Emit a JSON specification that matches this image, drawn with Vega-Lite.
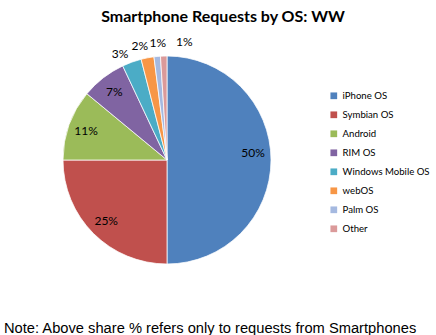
{
  "$schema": "https://vega.github.io/schema/vega-lite/v6.json",
  "background": "white",
  "padding": {"left": 4, "top": 9, "right": 0, "bottom": 0},
  "title": {
    "text": "Note: Above share % refers only to requests from Smartphones",
    "orient": "bottom",
    "anchor": "start",
    "font": "Liberation Sans",
    "fontSize": 14.7,
    "fontWeight": "normal",
    "color": "black",
    "offset": 40
  },
  "datasets": {
    "os": [
      {"idx": 1, "os": "iPhone OS", "share": 0.50},
      {"idx": 2, "os": "Symbian OS", "share": 0.25},
      {"idx": 3, "os": "Android", "share": 0.11},
      {"idx": 4, "os": "RIM OS", "share": 0.07},
      {"idx": 5, "os": "Windows Mobile OS", "share": 0.03},
      {"idx": 6, "os": "webOS", "share": 0.02},
      {"idx": 7, "os": "Palm OS", "share": 0.01},
      {"idx": 8, "os": "Other", "share": 0.01}
    ]
  },
  "vconcat": [
    {
      "title": {
        "text": "Smartphone Requests by OS: WW",
        "font": "Lato",
        "fontSize": 16,
        "fontWeight": "bold",
        "color": "black",
        "anchor": "middle",
        "dx": 56,
        "offset": 11
      },
      "width": 326,
      "height": 242,
      "data": {"name": "os"},
      "encoding": {
        "theta": {"field": "share", "type": "quantitative", "stack": true},
        "order": {"field": "idx", "type": "quantitative"},
        "color": {
          "field": "os",
          "type": "nominal",
          "sort": ["iPhone OS", "Symbian OS", "Android", "RIM OS", "Windows Mobile OS", "webOS", "Palm OS", "Other"],
          "scale": {
            "domain": ["iPhone OS", "Symbian OS", "Android", "RIM OS", "Windows Mobile OS", "webOS", "Palm OS", "Other"],
            "range": ["#4F81BD", "#C0504D", "#9BBB59", "#8064A2", "#4BACC6", "#F79646", "#A5B9E0", "#DB9A9A"]
          },
          "legend": {
            "title": null,
            "orient": "none",
            "legendX": 325,
            "legendY": 52,
            "symbolType": "square",
            "symbolSize": 45,
            "symbolStrokeWidth": 0,
            "labelFont": "Lato",
            "labelFontSize": 9.6,
            "labelColor": "black",
            "labelOffset": 4,
            "rowPadding": 8
          }
        }
      },
      "layer": [
        {"mark": {"type": "arc", "outerRadius": 104, "stroke": "white", "strokeWidth": 0.75}},
        {
          "mark": {"type": "text", "radius": 86, "font": "Lato", "fontSize": 12, "color": "black"},
          "encoding": {
            "color": {"value": "black"},
            "text": {"condition": {"test": "datum.share >= 0.05 && datum.share < 0.5", "field": "share", "type": "quantitative", "format": ".0%"}, "value": ""}
          }
        },
        {
          "mark": {"type": "text", "radius": 86, "dy": -7, "font": "Lato", "fontSize": 12, "color": "black"},
          "encoding": {
            "color": {"value": "black"},
            "text": {"condition": {"test": "datum.share >= 0.5", "field": "share", "type": "quantitative", "format": ".0%"}, "value": ""}
          }
        },
        {
          "mark": {"type": "text", "radius": 118, "dx": -7, "dy": 5, "font": "Lato", "fontSize": 12, "color": "black"},
          "encoding": {
            "color": {"value": "black"},
            "text": {"condition": {"test": "datum.os == 'Windows Mobile OS'", "field": "share", "type": "quantitative", "format": ".0%"}, "value": ""}
          }
        },
        {
          "mark": {"type": "text", "radius": 118, "dx": -5, "dy": 2, "font": "Lato", "fontSize": 12, "color": "black"},
          "encoding": {
            "color": {"value": "black"},
            "text": {"condition": {"test": "datum.os == 'webOS'", "field": "share", "type": "quantitative", "format": ".0%"}, "value": ""}
          }
        },
        {
          "mark": {"type": "text", "radius": 118, "dx": 2, "font": "Lato", "fontSize": 12, "color": "black"},
          "encoding": {
            "color": {"value": "black"},
            "text": {"condition": {"test": "datum.os == 'Palm OS'", "field": "share", "type": "quantitative", "format": ".0%"}, "value": ""}
          }
        },
        {
          "mark": {"type": "text", "radius": 118, "dx": 21, "font": "Lato", "fontSize": 12, "color": "black"},
          "encoding": {
            "color": {"value": "black"},
            "text": {"condition": {"test": "datum.os == 'Other'", "field": "share", "type": "quantitative", "format": ".0%"}, "value": ""}
          }
        }
      ]
    }
  ],
  "config": {"view": {"stroke": null}}
}
